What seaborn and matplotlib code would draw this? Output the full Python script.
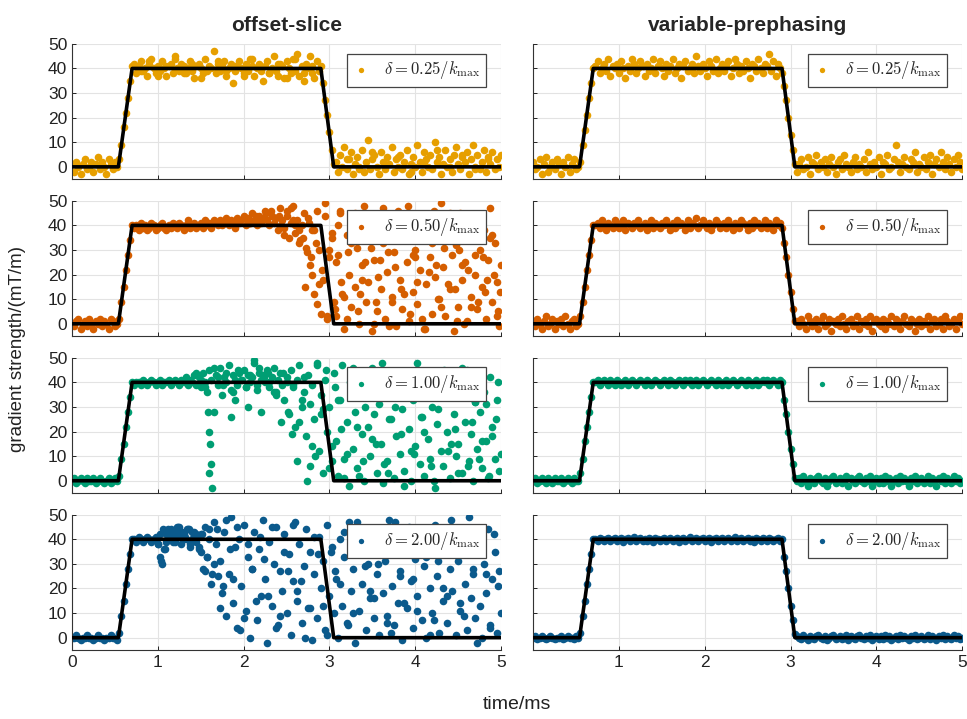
import numpy as np
import pandas as pd
import seaborn as sns
import matplotlib.pyplot as plt

# sample clock of the read-out (201 samples, 0..5 ms)
time_ms = np.round(np.arange(201) * 0.025, 3)

# nominal trapezoid (black line)
trap_t = [0, 0.54, 0.70, 2.90, 3.05, 5.0]
trap_g = [0, 0, 40, 40, 0, 0]

deltas = ['0.25', '0.50', '1.00', '2.00']
colors = ['#E69F00', '#D55E00', '#009E73', '#0B5A8C']

# measured gradient, offset-slice, one value per sample
off_025 = [1, -2, 2, 0, -3, 1, 3, -1, 0, 2, -2, 1, 4, -1, 2, 0, -3, 3, 1, -1, 2, 0,
           3, 9, 16, 22, 28, 35, 41,
           42, 38, 41, 43, 39, 40, 37, 42, 44, 40, 38, 41, 39, 43, 40, 37, 41, 42, 38, 45,
           40, 39, 42, 41, 38, 40, 43, 39, 36, 41, 42, 40, 38, 44, 39, 41, 40, 47, 38, 42,
           39, 41, 43, 37, 40, 42, 34, 39, 41, 43, 40, 38, 42, 39, 44, 41, 37, 40, 42, 39,
           35, 41, 43, 38, 40, 45, 39, 37, 42, 41, 36, 43, 40, 38, 44, 39, 46, 37, 41, 35,
           42, 40, 45, 38, 36, 43, 39, 41,
           34, 27, 21, 14, 7, 1,
           2, -2, 5, 0, 8, -1, 3, 6, -3, 1, 4, 0, 7, -2, 2, 11, -1, 3, 5, 0,
           -3, 6, 2, -1, 4, 1, 8, -2, 3, 0, 5, -1, 2, 7, -3, 1, 4, 0, 9, 2,
           -2, 6, 3, 0, 5, -1, 10, 2, 4, -3, 1, 7, 0, 3, -2, 5, 8, 1, -1, 4,
           2, 6, -3, 3, 9, 0, 5, -1, 2, 7, -2, 4, 1, 6, -1, 3, 0, 5]
off_050 = [0, -1, 1, 2, -2, 0, 1, -1, 2, 0, -2, 1, 0, 2, -1, 1, 0, -2, 2, 1, -1, 0,
           2, 9, 15, 22, 28, 34, 40,
           39, 40, 38, 41, 39, 40, 38, 39, 41, 40, 38, 39, 40, 41, 39, 38, 40, 39, 41, 40,
           39, 41, 40, 38, 40, 42, 39, 40, 41, 39, 40, 41, 39, 42, 40, 41, 39, 42, 41, 40,
           42, 40, 41, 43, 40, 42, 41, 39, 43, 41, 42, 44, 40, 43, 41, 45, 42, 40, 44, 41,
           43, 46, 42, 40, 44, 41, 43, 38, 47, 42, 39, 44, 35, 41, 48, 37, 42, 33, 40, 45,
           31, 43, 24, 38, 12, 46, 30, 4,
           18, 44, 2, 27, 35, 9,
           3, 28, 45, 12, -2, 36, 20, 7, 41, 15, 31, 0, 24, 48, 9, 17, 38, -3, 26, 5,
           43, 14, 33, 2, 21, 39, 11, 29, -1, 46, 18, 6, 35, 25, 1, 42, 13, 30, 8, 22,
           37, -2, 16, 44, 27, 4, 19, 34, 10, 49, 23, 3, 40, 14, 28, -3, 32, 7, 45, 18,
           25, 1, 36, 11, 43, 20, 6, 30, 15, 38, 2, 26, 47, 9, 33, 17, -1, 24]
off_100 = [0, 1, -1, 0, 1, 0, -1, 1, 0, 0, 1, -1, 0, 1, 0, -1, 0, 1, -1, 0, 1, 0,
           2, 9, 15, 22, 28, 34, 40,
           39, 40, 40, 39, 41, 40, 39, 40, 41, 40, 39, 40, 41, 39, 40, 40, 41, 39, 40, 41,
           40, 39, 41, 40, 42, 39, 41, 40, 43, 39, 42, 38, 44, 40, 36, 45, 41, 28, 43, 39,
           46, 35, 42, 40, 47, 37, 43, 41, 39, 44, 41, 45, 38, 43, 40, 42, 48, 39, 44, 41,
           43, 40, 45, 38, 42, 46, 36, 41, 44, 39, 33, 42, 27, 45, 38, 22, 41, 47, 30, 36,
           18, 43, 6, 39, 25, 48, 12, 35,
           3, 41, 20, 30, 8, 44,
           16, 2, 33, 47, 9, 24, -2, 38, 13, 28, 5, 42, 19, 0, 35, 22, 10, 46, 27, 3,
           31, 15, -1, 40, 8, 25, 36, 1, 18, 44, 11, 29, 4, 37, 21, 0, 33, 14, 48, 7,
           26, 2, 39, 17, 9, 30, -3, 23, 43, 12, 6, 34, 20, 1, 41, 27, 10, 15, 38, 3,
           24, 45, 8, 19, 0, 32, 13, 28, 5, 36, 16, 1, 42, 22, 9, 33, 4, 11]
off_200 = [0, 0, 1, 0, -1, 0, 0, 1, 0, 0, -1, 0, 1, 0, 0, -1, 0, 0, 1, 0, 0, -1,
           2, 9, 15, 22, 28, 34, 40,
           40, 39, 41, 40, 39, 40, 41, 40, 39, 40, 41, 38, 33, 30, 36, 42, 40, 44, 39, 43,
           41, 45, 38, 42, 40, 44, 37, 43, 41, 39, 36, 42, 28, 45, 33, 40, 22, 47, 38, 25,
           31, 18, 43, 9, 26, 49, 14, 37, 4, 40, 21, 46, 11, 33, 0, 28, 43, 7, 36, 17,
           48, 24, -2, 39, 13, 30, 45, 5, 27, 19, 42, 10, 34, 1, 23, 47, 15, 38, 6, 29,
           44, 12, 35, -1, 26, 8, 41, 20,
           31, 3, 46, 17, 37, 10,
           24, 0, 40, 13, 33, 6, 47, 19, 28, -2, 36, 11, 22, 44, 3, 30, 16, 39, 8, 26,
           1, 42, 18, 31, 9, 48, 21, 5, 35, 14, 27, -1, 38, 12, 45, 23, 4, 32, 17, 41,
           7, 29, 0, 36, 20, 10, 46, 25, 2, 34, 15, 40, 6, 28, 19, 43, 1, 31, 11, 37,
           22, 3, 49, 16, 26, 8, 39, 13, 0, 30, 18, 44, 5, 24, 35, 2, 27, 10]

# measured gradient, variable-prephasing
var_025 = [2, -1, 0, 3, -3, 1, 4, -2, 0, 2, -1, 3, 1, -3, 2, 0, 4, -2, 1, 3, -1, 0,
           2, 9, 15, 21, 28, 34, 40,
           41, 43, 38, 40, 42, 39, 44, 37, 41, 40, 42, 38, 43, 40, 36, 41, 39, 44, 42, 38,
           40, 43, 41, 37, 42, 39, 40, 44, 38, 41, 43, 40, 37, 42, 39, 41, 44, 38, 40, 42,
           36, 41, 43, 39, 40, 42, 38, 45, 41, 39, 42, 40, 37, 43, 41, 39, 44, 38, 40, 42,
           39, 41, 43, 37, 40, 44, 42, 38, 41, 39, 43, 40, 36, 42, 41, 39, 44, 40, 38, 42,
           41, 46, 39, 43, 37, 42, 40, 38,
           33, 27, 20, 13, 7, 1,
           -2, 1, 3, -1, 0, 4, -3, 2, 1, 5, -1, 2, 0, 3, -2, 1, 4, 0, -3, 2,
           3, -1, 5, 1, 0, -2, 2, 4, -1, 1, 0, 3, -2, 6, 1, -1, 2, 0, 4, -3,
           2, 1, 5, -1, 0, 3, 9, 2, -2, 1, 4, 0, -1, 3, 2, 6, -2, 1, 0, 4,
           -1, 2, 5, -3, 1, 3, 0, 6, 2, -1, 4, 1, -2, 3, 0, 5, 2, -1]
var_050 = [1, -1, 2, 0, -2, 1, 3, -1, 0, 2, -2, 1, 0, 2, -1, 3, 0, -2, 1, 2, -1, 0,
           3, 9, 15, 22, 28, 34, 40,
           40, 41, 39, 42, 40, 38, 41, 40, 39, 42, 41, 39, 40, 42, 38, 41, 40, 39, 41, 40,
           42, 39, 40, 41, 38, 40, 42, 39, 41, 40, 39, 41, 40, 42, 40, 38, 41, 39, 42, 40,
           41, 40, 38, 42, 39, 41, 40, 43, 39, 40, 42, 40, 39, 41, 38, 40, 42, 41, 39, 40,
           41, 39, 42, 40, 38, 41, 40, 39, 42, 41, 40, 38, 41, 39, 42, 40, 41, 39, 40, 42,
           39, 41, 40, 38, 42, 40, 41, 39,
           33, 27, 20, 13, 6, 1,
           1, -1, 2, 0, -2, 3, 1, -1, 0, 2, -2, 1, 3, -1, 0, 2, -3, 1, 0, 2,
           -1, 3, 0, -2, 1, 2, -1, 0, 3, -2, 1, 0, 2, -1, 3, -3, 1, 2, 0, -1,
           2, -2, 1, 0, 3, -1, 2, 0, -2, 1, 3, 0, -1, 2, 1, -3, 0, 2, -1, 1,
           0, 3, -2, 1, 2, -1, 0, 2, -2, 3, 1, -1, 0, 2, -2, 1, 3, 0]
var_100 = [0, 1, -1, 0, 1, 0, -1, 1, 0, -1, 1, 0, 0, 1, -1, 0, 1, 0, -1, 1, 0, 0,
           3, 9, 16, 22, 28, 34, 40,
           40, 41, 39, 40, 41, 40, 39, 41, 40, 39, 41, 40, 39, 40, 41, 39, 40, 41, 40, 39,
           40, 41, 40, 39, 41, 40, 39, 40, 41, 40, 39, 40, 41, 40, 39, 41, 40, 39, 40, 41,
           40, 39, 41, 40, 41, 39, 40, 41, 39, 40, 41, 40, 39, 40, 41, 40, 39, 41, 40, 39,
           40, 41, 39, 40, 41, 40, 39, 40, 41, 40, 39, 41, 40, 39, 40, 41, 39, 40, 41, 40,
           41, 39, 40, 41, 40, 39, 41, 40,
           33, 27, 20, 13, 7, 1,
           0, 1, -1, 2, 0, -2, 1, 0, -1, 1, 2, 0, -1, 1, -2, 0, 1, 2, -1, 0,
           1, -1, 0, 2, -2, 1, 0, -1, 1, 2, 0, -1, 1, 0, 2, -2, 0, 1, -1, 1,
           -1, 2, 0, 1, -2, 0, 1, -1, 2, 0, 1, 0, -2, 1, 0, 2, -1, 0, 1, -1,
           0, 2, -1, 1, 0, -2, 1, 0, 2, -1, 1, 0, -1, 2, 0, 1, -1, 0]
var_200 = [0, 0.5, -0.5, 0, 0.5, 0, -0.5, 0, 0.5, 0, -0.5, 0, 0, 0.5, -0.5, 0, 0.5, 0, 0, -0.5, 0.5, 0,
           2, 9, 15, 22, 28, 34, 40,
           40, 39.5, 40.5, 40, 39.5, 40, 40.5, 39.5, 40, 40.5, 39.5, 40, 40.5, 39, 40, 40.5, 39.5, 40, 41, 39.5,
           40, 40.5, 39.5, 40, 39.5, 40.5, 40, 39, 40.5, 40, 39.5, 40, 40.5, 39.5, 40, 40.5, 39.5, 40, 40.5, 39,
           40, 40.5, 39.5, 40, 41, 39.5, 40, 40.5, 39.5, 40, 40.5, 39.5, 40, 40.5, 39, 40, 40.5, 39.5, 40, 40.5,
           39.5, 40, 40.5, 39.5, 40, 41, 39.5, 40, 40.5, 39.5, 40, 40.5, 39.5, 40, 39, 40.5, 40, 39.5, 40.5, 40,
           39.5, 40.5, 40, 39.5, 40, 40.5, 39.5, 40,
           33, 27, 20, 13, 7, 1.5,
           0.5, 0, -0.5, 1, 0, -1, 0.5, 0, -0.5, 0.5, 1, 0, -0.5, 0.5, -1, 0, 0.5, 1, -0.5, 0,
           0.5, -0.5, 0, 1, -1, 0.5, 0, -0.5, 0.5, 1, 0, -0.5, 0.5, 0, 1, -1, 0, 0.5, -0.5, 0.5,
           -0.5, 1, 0, 0.5, -1, 0, 0.5, -0.5, 1, 0, 0.5, 0, -1, 0.5, 0, 1, -0.5, 0, 0.5, -0.5,
           0, 1, -0.5, 0.5, 0, -1, 0.5, 0, 1, -0.5, 0.5, 0, -0.5, 1, 0, 0.5, -0.5, 0]

# extra off-grid points seen in the offset-slice panels
extra_t_025 = [0.8, 0.9, 1.0, 1.1, 1.2, 1.3, 1.4, 1.5, 1.6, 1.7,
               1.8, 1.9, 2.0, 2.1, 2.2, 2.3, 2.4, 2.5, 2.6, 2.7,
               2.8, 3.2, 3.35, 3.5, 3.65, 3.8, 3.95, 4.1, 4.25, 4.4,
               4.55, 4.7, 4.85]
extra_g_025 = [39, 43, 37, 41, 44, 38, 42, 36, 40, 43, 39, 41, 37, 44, 40, 38, 42, 36, 44, 38,
               41, 3, -1, 6, 1, 4, -2, 2, 7, 0, 5, -1, 3]
extra_t_050 = [2.32, 2.41, 2.47, 2.55, 2.6, 2.66, 2.71, 2.78, 2.82, 2.86,
               2.91, 2.95, 3.0, 3.06, 3.1, 3.14, 3.2, 3.25, 3.3, 3.36,
               3.41, 3.45, 3.52, 3.57, 3.62, 3.68, 3.73, 3.79, 3.84, 3.9,
               3.94, 4.0, 4.05, 4.11, 4.16, 4.22, 4.27, 4.33, 4.38, 4.43,
               4.49, 4.54, 4.6, 4.65, 4.7, 4.76, 4.81, 4.87, 4.92, 4.97,
               2.02, 2.08, 2.14, 2.2, 2.26, 2.36, 2.44, 2.5, 2.58, 2.64,
               2.69, 2.74, 2.76, 2.8, 2.84, 2.88, 2.97, 3.03, 3.08, 3.12,
               3.17, 3.22, 3.28, 3.33, 3.38, 3.43, 3.48, 3.54, 3.59, 3.65,
               3.7, 3.76, 3.81, 3.87, 3.92, 3.97, 4.02, 4.08, 4.13, 4.19,
               4.24, 4.3, 4.35, 4.4, 4.46, 4.51, 4.57, 4.62, 4.68, 4.73,
               4.79, 4.84, 4.9, 4.95, 4.99]
extra_g_050 = [46, 44, 36, 47, 40, 34, 15, 27, 38, 8, 22, 49, 30, 6, 40, 17, 2, 33, 45, 12,
               25, 39, 0, 19, 47, 29, 9, 36, 14, 43, 4, 27, 34, -2, 21, 46, 10, 31, 16, 41,
               1, 24, 37, 7, 28, 44, 13, 35, 20, 5,
               43, 41, 44, 42, 45, 43, 40, 46, 42, 38, 35, 29, 41, 20, 33, 16, 3, 37, 25, 46,
               11, 29, 39, 5, 18, 44, 31, 9, 26, 40, -1, 23, 35, 12, 48, 28, 17, 2, 42, 33,
               24, 7, 38, 45, 14, 30, 0, 22, 41, 9, 27, 18, 36, 3, 13]
extra_t_100 = [1.58, 1.6, 1.61, 1.62, 1.6, 1.63, 1.85, 1.9, 2.05, 2.12,
               2.2, 2.28, 2.35, 2.43, 2.5, 2.56, 2.62, 2.68, 2.74, 2.8,
               2.86, 2.93, 2.99, 3.06, 3.13, 3.2, 3.28, 3.35, 3.42, 3.5,
               3.57, 3.64, 3.72, 3.8, 3.87, 3.95, 4.03, 4.1, 4.18, 4.26,
               4.34, 4.42, 4.5, 4.58, 4.66, 4.74, 4.82, 4.9, 4.97,
               1.45, 1.5, 1.55, 1.66, 1.7, 1.76, 1.8, 1.88, 1.94, 1.98,
               2.03, 2.08, 2.15, 2.18, 2.24, 2.3, 2.38, 2.46, 2.52, 2.58,
               2.65, 2.7, 2.77, 2.83, 2.9, 2.96, 3.03, 3.1, 3.17, 3.24,
               3.32, 3.39, 3.46, 3.54, 3.61, 3.68, 3.76, 3.84, 3.91, 3.99,
               4.07, 4.14, 4.22, 4.3, 4.38, 4.46, 4.54, 4.62, 4.7, 4.78,
               4.86, 4.94]
extra_g_100 = [28, 20, 15, 7, 3, -3, 26, 33, 30, 49, 28, 44, 36, 24, 40, 19, 8, 33, 0, 14,
               47, 29, 5, 38, 21, 11, 46, 2, 30, 17, 43, 7, 25, 34, -2, 12, 41, 20, 6, 29,
               45, 15, 3, 37, 24, 9, 31, 18, 40,
               44, 41, 38, 46, 42, 39, 44, 36, 45, 41, 38, 43, 37, 46, 42, 40, 35, 44, 28, 39,
               24, 42, 31, 10, 27, 45, 14, 33, 1, 40, 22, 8, 36, 15, 48, 3, 30, 19, 41, 11,
               26, 44, 0, 35, 12, 21, 46, 6, 32, 16, 2, 25]
extra_t_200 = [1.02, 1.06, 1.1, 1.14, 1.18, 1.22, 1.26, 1.3, 1.34, 1.38,
               1.42, 1.46, 1.5, 1.55, 1.6, 1.66, 1.72, 1.8, 1.88, 1.96,
               2.05, 2.14, 2.24, 2.33, 2.42, 2.52, 2.62, 2.72, 2.82, 2.92,
               3.02, 3.12, 3.22, 3.32, 3.42, 3.52, 3.62, 3.72, 3.82, 3.92,
               4.02, 4.12, 4.22, 4.32, 4.42, 4.52, 4.62, 4.72, 4.82, 4.92,
               1.0, 1.04, 1.08, 1.12, 1.16, 1.2, 1.24, 1.28, 1.32, 1.36,
               1.4, 1.44, 1.48, 1.52, 1.57, 1.63, 1.69, 1.76, 1.84, 1.92,
               2.0, 2.1, 2.19, 2.28, 2.38, 2.47, 2.57, 2.67, 2.77, 2.87,
               2.97, 3.07, 3.17, 3.27, 3.37, 3.47, 3.57, 3.67, 3.77, 3.87,
               3.97, 4.07, 4.17, 4.27, 4.37, 4.47, 4.57, 4.67, 4.77, 4.87,
               4.97]
extra_g_200 = [42, 44, 39, 43, 41, 45, 42, 40, 44, 38, 43, 41, 35, 27, 44, 30, 12, 48, 24, 3,
               38, 15, 32, 45, 9, 27, 19, 0, 41, 13, 35, 22, 5, 47, 29, 16, 38, 2, 25, 43,
               11, 33, 7, 20, 48, 14, 36, -2, 26, 42,
               38, 31, 36, 44, 42, 39, 45, 43, 41, 44, 40, 42, 37, 42, 33, 26, 44, 21, 36, 45,
               8, 28, 41, 17, 4, 35, 46, 23, 12, 34, 1, 27, 43, 10, 38, 19, 30, 6, 47, 14,
               24, 39, 1, 31, 17, 44, 9, 28, 36, 4, 21]

offset_rows = [off_025, off_050, off_100, off_200]
variable_rows = [var_025, var_050, var_100, var_200]
extra_rows = [(extra_t_025, extra_g_025), (extra_t_050, extra_g_050),
              (extra_t_100, extra_g_100), (extra_t_200, extra_g_200)]

sns.set_style('ticks')
plt.rcParams['font.family'] = ['Liberation Sans', 'DejaVu Sans']
plt.rcParams['mathtext.fontset'] = 'cm'

fig, axes = plt.subplots(4, 2, figsize=(9.67, 7.19), dpi=100)
fig.subplots_adjust(left=0.0745, right=0.995, top=0.939, bottom=0.096,
                    hspace=0.16, wspace=0.075)

trap = pd.DataFrame({'t': trap_t, 'g': trap_g})

for row in range(4):
    for col in range(2):
        ax = axes[row, col]
        if col == 0:
            df = pd.DataFrame({'t': list(time_ms) + extra_rows[row][0],
                               'g': offset_rows[row] + extra_rows[row][1]})
        else:
            df = pd.DataFrame({'t': time_ms, 'g': variable_rows[row]})
        label = r'$\delta = %s/k_{\max}$' % deltas[row]
        sns.scatterplot(data=df, x='t', y='g', ax=ax, color=colors[row], s=30,
                        linewidth=0, label=label, zorder=2)
        sns.lineplot(data=trap, x='t', y='g', ax=ax, color='black', lw=2.6,
                     estimator=None, sort=False, zorder=3)
        ax.set_xlim(0, 5)
        ax.set_ylim(-5, 50)
        ax.set_xticks([0, 1, 2, 3, 4, 5])
        ax.set_yticks([0, 10, 20, 30, 40, 50])
        ax.grid(True, color='#e3e3e3', lw=0.8, zorder=0)
        ax.set_axisbelow(True)
        ax.tick_params(direction='in', length=3, labelsize=12.5, colors='#222222',
                       width=0.7)
        for s in ['top', 'right']:
            ax.spines[s].set_visible(False)
        for s in ['left', 'bottom']:
            ax.spines[s].set_color('#333333')
            ax.spines[s].set_linewidth(0.8)
        ax.set_xlabel('')
        ax.set_ylabel('')
        if col == 1:
            ax.set_yticklabels([])
            ax.set_xticklabels(['', '1', '2', '3', '4', '5'])
        if row < 3:
            ax.set_xticklabels([])
        leg = ax.legend(loc='upper right', fontsize=12, frameon=True, fancybox=False,
                        framealpha=1, edgecolor='#444444', handlelength=1.0,
                        handletextpad=0.9, borderpad=0.35, markerscale=0.7,
                        bbox_to_anchor=(0.985, 0.99))
        leg.get_frame().set_linewidth(0.9)

axes[0, 0].set_title('offset-slice', fontsize=15, fontweight='bold', pad=9)
axes[0, 1].set_title('variable-prephasing', fontsize=15, fontweight='bold', pad=9)
fig.text(0.018, 0.515, 'gradient strength/(mT/m)', rotation=90, ha='center',
         va='center', fontsize=13.5, color='#222222')
fig.text(0.535, 0.02, 'time/ms', ha='center', va='center', fontsize=14, color='#222222')

fig.savefig('out.png', dpi=100)
